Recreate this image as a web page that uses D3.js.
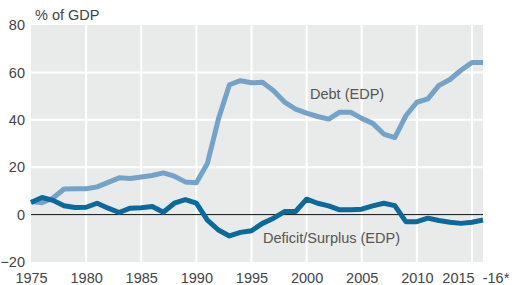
<!DOCTYPE html>
<html>
<head>
<meta charset="utf-8">
<script src="https://d3js.org/d3.v7.min.js"></script>
<style>
  body { margin: 0; background: #fff; font-family: 'Liberation Sans', Arial, sans-serif; }
  .tick text { font-size: 14.5px; fill: #444; }
  .lbl { font-size: 14.5px; fill: #555; }
</style>
</head>
<body>
<svg id="chart" width="516" height="285"></svg>
<script>
// years 1975..2016
const years = d3.range(1975, 2017);
const debt = [5.5, 5, 7, 10.8, 10.9, 10.9, 11.7, 13.6, 15.5, 15.2,
  15.9, 16.5, 17.6, 16.2, 13.8, 13.4, 21.6, 40.3, 54.8, 56.5,
  55.6, 55.8, 52.3, 47.5, 44.5, 42.8, 41.4, 40.3, 43.2, 43.2,
  40.6, 38.5, 34, 32.5, 41.7, 47.4, 48.8, 54.5, 57, 60.9,
  64.2, 64.2];
const deficit = [5.1, 7.2, 6, 3.7, 3, 3.1, 4.8, 2.7, 0.9, 2.7,
  2.9, 3.4, 1, 4.8, 6.3, 4.8, -2.3, -6.5, -9, -7.5,
  -6.8, -3.7, -1.5, 1.3, 1.3, 6.5, 4.8, 3.7, 2, 2,
  2.3, 3.7, 4.8, 3.8, -3, -3, -1.5, -2.5, -3.2, -3.7,
  -3.2, -2.3];
const yTicks = [-20, 0, 20, 40, 60, 80];
const xTicks = [1975, 1980, 1985, 1990, 1995, 2000, 2005, 2010, 2015];

const svg = d3.select("#chart");
const x = d3.scaleLinear().domain([1975, 2016]).range([31, 483]);
const y = d3.scaleLinear().domain([-20, 80]).range([262, 25]);

// plot background
svg.append("rect")
  .attr("x", x(1975)).attr("y", y(80))
  .attr("width", x(2016) - x(1975)).attr("height", y(-20) - y(80))
  .attr("fill", "#e9eaea");

// white grid
svg.append("g")
  .selectAll("line.v").data(xTicks.slice(1)).enter().append("line")
  .attr("x1", d => x(d)).attr("x2", d => x(d))
  .attr("y1", y(80)).attr("y2", y(-20))
  .attr("stroke", "#fff").attr("stroke-width", 2);
svg.append("g")
  .selectAll("line.h").data([20, 40, 60]).enter().append("line")
  .attr("x1", x(1975)).attr("x2", x(2016))
  .attr("y1", d => y(d)).attr("y2", d => y(d))
  .attr("stroke", "#fff").attr("stroke-width", 2);

// zero line
svg.append("line")
  .attr("x1", x(1975)).attr("x2", x(2016))
  .attr("y1", y(0)).attr("y2", y(0))
  .attr("stroke", "#111").attr("stroke-width", 1);

// axes (labels only)
const yAxis = svg.append("g")
  .attr("transform", `translate(${x(1975)},0)`)
  .call(d3.axisLeft(y).tickValues(yTicks).tickSize(0).tickPadding(6));
yAxis.select(".domain").remove();
yAxis.selectAll("text").attr("font-family", "'Liberation Sans', Arial, sans-serif");

const xAxis = svg.append("g")
  .attr("transform", `translate(0,${y(-20)})`)
  .call(d3.axisBottom(x).tickValues(xTicks).tickFormat(d3.format("d")).tickSize(0).tickPadding(11));
xAxis.select(".domain").remove();
xAxis.selectAll("text")
  .attr("font-family", "'Liberation Sans', Arial, sans-serif")
  .attr("dx", d => d === 2015 ? -14 : 0);

svg.append("text")
  .attr("class", "lbl")
  .attr("x", 496).attr("y", 283)
  .attr("text-anchor", "middle")
  .style("fill", "#444")
  .text("-16*");

svg.append("text")
  .attr("class", "lbl")
  .attr("x", 35).attr("y", 20)
  .style("fill", "#444")
  .text("% of GDP");

const line = d3.line().x((d, i) => x(years[i])).y(d => y(d));

svg.append("path")
  .datum(debt)
  .attr("d", line)
  .attr("fill", "none")
  .attr("stroke", "#74a3c9")
  .attr("stroke-width", 5)
  .attr("stroke-linejoin", "round");

svg.append("path")
  .datum(deficit)
  .attr("d", line)
  .attr("fill", "none")
  .attr("stroke", "#0b6a9b")
  .attr("stroke-width", 5)
  .attr("stroke-linejoin", "round");

svg.append("text").attr("class", "lbl")
  .attr("x", 310).attr("y", 99).text("Debt (EDP)");
svg.append("text").attr("class", "lbl")
  .attr("x", 263).attr("y", 243).text("Deficit/Surplus (EDP)");
</script>
</body>
</html>
